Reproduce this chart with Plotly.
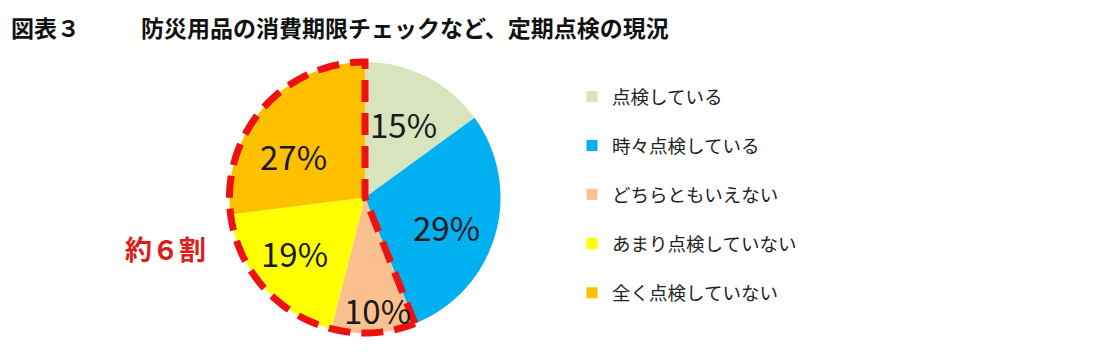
import math
import plotly.graph_objects as go

# ---- data ----
categories = ["点検している", "時々点検している", "どちらともいえない", "あまり点検していない", "全く点検していない"]
values = [15, 29, 10, 19, 27]
pct_labels = ["15%", "29%", "10%", "19%", "27%"]
colors = ["#d7e4bd", "#00b0f0", "#fac090", "#ffff00", "#ffc000"]
highlight = [False, False, True, True, True]   # slices grouped as "約６割"
fig_label = "図表３"
title_text = "防災用品の消費期限チェックなど、定期点検の現況"
group_label = "約６割"

# ---- style ----
W, H = 1101, 352
CX, CY, R = 365, 197.5, 135.5          # pie centre/radius in px
PAD = 1.1                              # axis half-range (pie radius = 1)
label_r = [0.59, 0.65, 0.855, 0.675, 0.595]
label_dtheta = [1.6, 5.8, -2.5, 1.9, -13.2]
JP = "Noto Sans CJK JP"


def px_dom_x(a, b):
    return [a / W, b / W]


def px_dom_y(top, bottom):
    return [1 - bottom / H, 1 - top / H]


fig = go.Figure()

fig.add_trace(go.Pie(
    values=values, labels=categories, sort=False, direction="clockwise", rotation=0,
    marker=dict(colors=colors, line=dict(width=0)), textinfo="none", hoverinfo="skip",
    showlegend=False,
    domain=dict(x=px_dom_x(CX - R, CX + R), y=px_dom_y(CY - R, CY + R)),
))

# legend entries (one group each so that gaps can be set)
for i, (c, col) in enumerate(zip(categories, colors)):
    fig.add_trace(go.Scatter(
        x=[None], y=[None], mode="markers", name=c, legendgroup=f"g{i}",
        marker=dict(symbol="square", size=11, color=col), showlegend=True,
    ))

# angles (clockwise from top)
total = sum(values)
starts, ends = [], []
acc = 0
for v in values:
    starts.append(acc / total * 360)
    acc += v
    ends.append(acc / total * 360)

# percentage labels
annotations = []
for i, lab in enumerate(pct_labels):
    th = math.radians((starts[i] + ends[i]) / 2 + label_dtheta[i])
    annotations.append(dict(
        x=label_r[i] * math.sin(th), y=label_r[i] * math.cos(th), xref="x", yref="y",
        text=lab, showarrow=False, font=dict(family=JP, size=33, color="#1a1a1a"),
        xanchor="center", yanchor="middle", yshift=3,
    ))

# dashed outline around highlighted slices
hi_idx = [i for i, h in enumerate(highlight) if h]
a0 = starts[hi_idx[0]]
a1 = ends[hi_idx[-1]]
pts = [(math.sin(math.radians(a0)), math.cos(math.radians(a0))), (0.0, 0.0),
       (math.sin(math.radians(a1)), math.cos(math.radians(a1)))]
n = 120
for k in range(1, n + 1):
    a = a1 - (a1 - a0) * k / n
    pts.append((math.sin(math.radians(a)), math.cos(math.radians(a))))
path = "M " + " L ".join(f"{x:.4f},{y:.4f}" for x, y in pts)

shapes = [dict(type="path", path=path, xref="x", yref="y", layer="above",
               line=dict(color="#ee1111", width=7, dash="22px,11px"))]

annotations += [
    dict(x=9 / W, y=1 - 27 / H, xref="paper", yref="paper", xanchor="left", yanchor="middle",
         text=f"<b>{fig_label}</b>", showarrow=False, font=dict(family=JP, size=23, color="#111")),
    dict(x=139 / W, y=1 - 27 / H, xref="paper", yref="paper", xanchor="left", yanchor="middle",
         text=f"<b>{title_text}</b>", showarrow=False, font=dict(family=JP, size=23, color="#111")),
    dict(x=123 / W, y=1 - 248 / H, xref="paper", yref="paper", xanchor="left", yanchor="middle",
         text=f"<b>{group_label}</b>", showarrow=False, font=dict(family=JP, size=27, color="#dd1c1c")),
]

fig.update_layout(
    width=W, height=H, margin=dict(l=0, r=0, t=0, b=0),
    paper_bgcolor="white", plot_bgcolor="rgba(0,0,0,0)",
    xaxis=dict(domain=px_dom_x(CX - R * PAD, CX + R * PAD), range=[-PAD, PAD], visible=False, fixedrange=True),
    yaxis=dict(domain=px_dom_y(CY - R * PAD, CY + R * PAD), range=[-PAD, PAD], visible=False, fixedrange=True),
    legend=dict(x=572 / W, y=1 - 78 / H, xanchor="left", yanchor="top", tracegroupgap=22,
                font=dict(family=JP, size=18.5, color="#222"), bgcolor="rgba(0,0,0,0)",
                itemclick=False, itemdoubleclick=False),
    annotations=annotations, shapes=shapes, showlegend=True,
)

fig.write_html("out.html")
